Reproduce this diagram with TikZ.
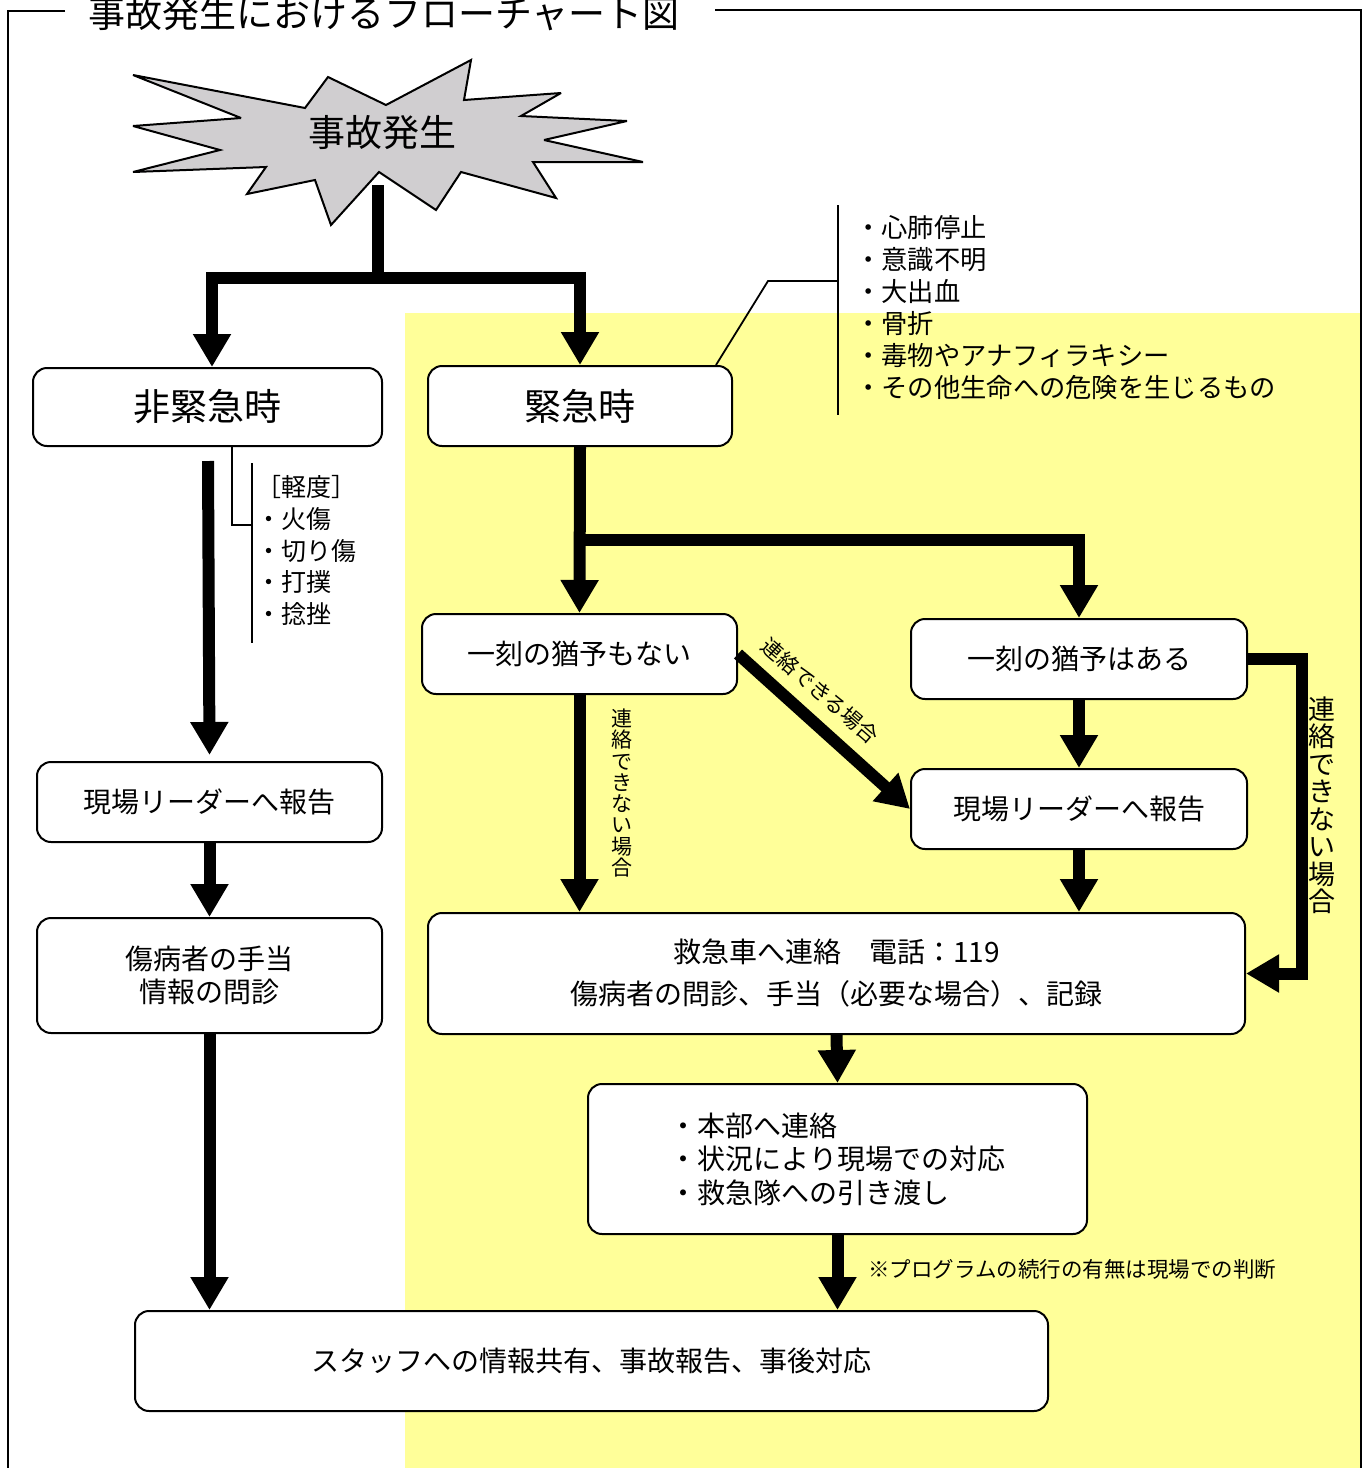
\documentclass[tikz,border=0pt]{standalone}
\usepackage{fontspec}
\setmainfont{Noto Sans CJK JP}
\usetikzlibrary{arrows.meta,calc}
\definecolor{ybg}{RGB}{255,255,153}
\definecolor{burstgray}{RGB}{208,206,208}
\begin{document}
\begin{tikzpicture}[x=1pt,y=-1pt,
  box/.style={draw, line width=2pt, rounded corners=14pt, fill=white, inner sep=0pt,
    font=\fontsize{28}{34}\selectfont, align=center},
  bigbox/.style={box, font=\fontsize{37}{40}\selectfont},
  bigarrow/.style={line width=12pt, -{Triangle[width=36pt,length=33pt]}},
  bigline/.style={line width=12pt},
  thinline/.style={line width=1.8pt},
  framel/.style={line width=2pt},
  plain/.style={inner sep=0pt}
]
\useasboundingbox (0,0) rectangle (1367,1468);
% background
\fill[ybg] (405,313) rectangle (1360,1470);
% frame
\draw[framel] (65,11) -- (8,11) -- (8,1472);
\draw[framel] (715,10) -- (1361,10) -- (1361,1472);
\node[plain, anchor=base west, font=\fontsize{37}{40}\selectfont] (title) at (88,27.5) {事故発生におけるフローチャート図};
% starburst
\filldraw[fill=burstgray, line width=2pt, miter limit=4] (133,75) -- (305,108) -- (328,77) -- (386,105) -- (471,60) -- (464,100) -- (561,93) -- (521,116) -- (627,121) -- (544,140) -- (643,162) -- (533,162) -- (556,198) -- (461,172) -- (436,210) -- (379,172) -- (331,225) -- (315,180) -- (247,194) -- (266,167) -- (133,172) -- (220,150) -- (133,126) -- (241,118) -- cycle;
\node[font=\fontsize{37}{40}\selectfont] (burst) at (382,133) {事故発生};
\coordinate (bst) at (378,185);
\coordinate (j1) at (378,278);
\coordinate (j2) at (580,540);
\coordinate (ls) at (208,461);
% boxes
\node[bigbox, minimum width=349pt, minimum height=78pt] (nk) at (207.5,407) {非緊急時};
\node[bigbox, minimum width=304pt, minimum height=80pt] (em) at (580,406) {緊急時};
\node[box, minimum width=315pt, minimum height=80pt] (ng) at (579.5,654) {一刻の猶予もない};
\node[box, minimum width=336pt, minimum height=80pt] (ya) at (1079,659) {一刻の猶予はある};
\node[box, minimum width=336pt, minimum height=80pt] (rl) at (1079,809) {現場リーダーへ報告};
\node[box, minimum width=345pt, minimum height=80pt] (ll) at (209.5,802) {現場リーダーへ報告};
\node[box, minimum width=345pt, minimum height=115pt, font=\fontsize{28}{33}\selectfont] (tr) at (209.5,975.5) {傷病者の手当\\情報の問診};
\node[box, minimum width=817pt, minimum height=121pt, font=\fontsize{28}{42}\selectfont] (am) at (836.5,973.5) {救急車へ連絡　電話：119\\傷病者の問診、手当（必要な場合）、記録};
\node[box, minimum width=499pt, minimum height=150pt, align=left, font=\fontsize{28}{33.5}\selectfont] (hq) at (837.5,1159) {・本部へ連絡\\・状況により現場での対応\\・救急隊への引き渡し};
\node[box, minimum width=913pt, minimum height=100pt] (bt) at (591.5,1361) {スタッフへの情報共有、事故報告、事後対応};
% annotations
\draw[thinline] ($(em.north east)+(-17,0)$) -- (768,281) -- (838,281);
\draw[thinline] (838,205) -- (838,415);
\node[plain, anchor=west, align=left, font=\fontsize{26.3}{32}\selectfont] (elist) at (855,308) {・心肺停止\\・意識不明\\・大出血\\・骨折\\・毒物やアナフィラキシー\\・その他生命への危険を生じるもの};
\draw[thinline] ($(nk.south)+(24.5,0)$) -- (232,525) -- (252,525);
\draw[thinline] (252,463) -- (252,643);
\node[plain, anchor=west, align=left, font=\fontsize{25}{31.75}\selectfont] (mild) at (256,550.5) {［軽度］\\・火傷\\・切り傷\\・打撲\\・捻挫};
% arrows
\draw[bigline] (bst) -- (j1);
\draw[bigarrow] (j1) -| ($(nk.north)+(4.5,0)$);
\draw[bigarrow] (j1) -| (em.north);
\draw[bigarrow] (ls) -- ($(ll.north)+(0,-6)$);
\draw[bigarrow] (ll.south) -- (tr.north);
\draw[bigarrow] (tr.south) -- (tr.south |- bt.north);
\draw[bigarrow] (em.south) -- (ng.north);
\draw[bigarrow] (j2) -| (ya.north);
\draw[bigarrow] (ya.south) -- (rl.north);
\draw[bigarrow] (rl.south) -- (rl.south |- am.north);
\draw[bigarrow] (ng.south) -- (ng.south |- am.north);
\draw[bigarrow] (ng.east) -- (rl.west);
\draw[bigarrow] (ya.east) -- ++(54,0) |- (am.east);
\draw[bigarrow] (am.south) -- (hq.north);
\draw[bigarrow] (hq.south) -- (hq.south |- bt.north);
% labels
\node[plain, align=center, font=\fontsize{21}{21.3}\selectfont] (lbl1) at (622,793) {連\\絡\\で\\き\\な\\い\\場\\合};
\node[plain, align=center, font=\fontsize{27}{27.5}\selectfont] (lbl2) at (1322,805) {連\\絡\\で\\き\\な\\い\\場\\合};
\node[plain, rotate=-41, font=\fontsize{21}{24}\selectfont] (lbl3) at (820,691) {連絡できる場合};
\node[plain, anchor=west, font=\fontsize{21.5}{24}\selectfont] (note) at (868,1269) {※プログラムの続行の有無は現場での判断};
\end{tikzpicture}
\end{document}
